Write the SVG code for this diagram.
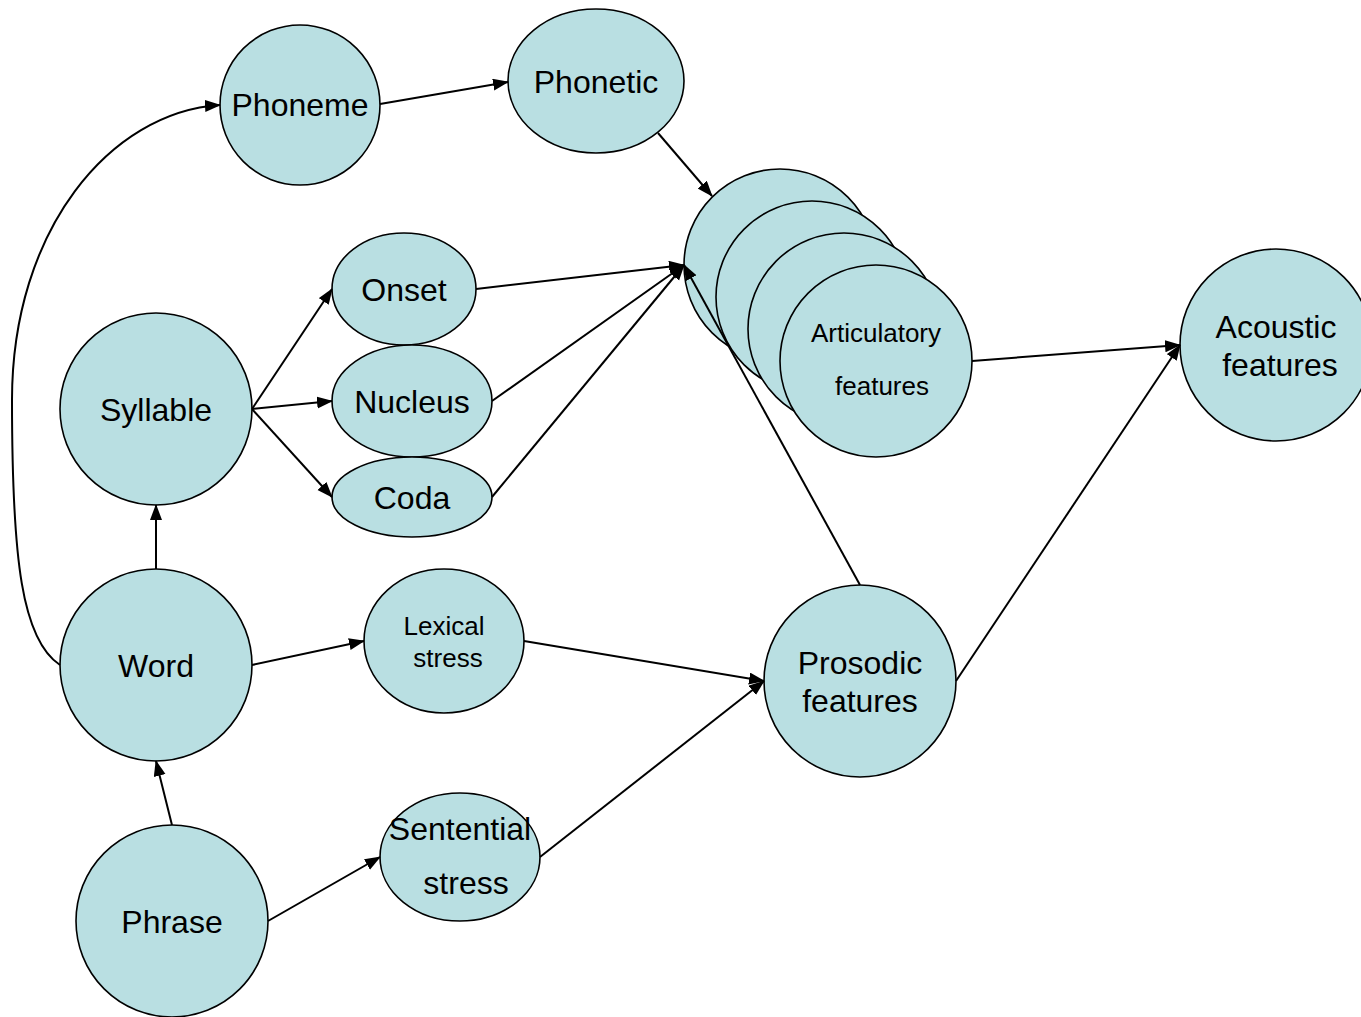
<svg xmlns="http://www.w3.org/2000/svg" width="1361" height="1017" viewBox="0 0 1361 1017">
<defs>
<style>
.n{fill:#b9dfe2;stroke:#000;stroke-width:1.6}
.t{font-family:"Liberation Sans",Arial,sans-serif;font-size:32px;fill:#000;text-anchor:middle}
.s{font-size:26px}
.c line,.c path{stroke:#000;stroke-width:2;fill:none;marker-end:url(#ah)}
</style>
<marker id="ah" markerUnits="userSpaceOnUse" markerWidth="18" markerHeight="14" refX="15" refY="6" orient="auto">
<path d="M0,0 L16,6 L0,12 z" fill="#000"/>
</marker>
</defs>
<rect width="1361" height="1017" fill="#fff"/>
<g id="phoneme"><ellipse class="n" cx="300" cy="105" rx="80" ry="80"/><text class="t" x="300" y="116">Phoneme</text></g>
<g id="phonetic"><ellipse class="n" cx="596" cy="81" rx="88" ry="72"/><text class="t" x="596" y="93">Phonetic</text></g>
<g id="articulatory">
<circle class="n" cx="780" cy="265" r="96"/>
<circle class="n" cx="812" cy="297" r="96"/>
<circle class="n" cx="844" cy="329" r="96"/>
<circle class="n" cx="876" cy="361" r="96"/>
<text class="t s" x="876" y="342">Articulatory</text>
<text class="t s" x="882" y="395">features</text>
</g>
<g id="acoustic"><circle class="n" cx="1276" cy="345" r="96"/><text class="t" x="1276" y="338">Acoustic</text><text class="t" x="1280" y="376">features</text></g>
<g id="onset"><ellipse class="n" cx="404" cy="289" rx="72" ry="56"/><text class="t" x="404" y="301">Onset</text></g>
<g id="nucleus"><ellipse class="n" cx="412" cy="401" rx="80" ry="56"/><text class="t" x="412" y="413">Nucleus</text></g>
<g id="coda"><ellipse class="n" cx="412" cy="497" rx="80" ry="40"/><text class="t" x="412" y="509">Coda</text></g>
<g id="syllable"><circle class="n" cx="156" cy="409" r="96"/><text class="t" x="156" y="421">Syllable</text></g>
<g id="word"><circle class="n" cx="156" cy="665" r="96"/><text class="t" x="156" y="677">Word</text></g>
<g id="phrase"><circle class="n" cx="172" cy="921" r="96"/><text class="t" x="172" y="933">Phrase</text></g>
<g id="lexical"><ellipse class="n" cx="444" cy="641" rx="80" ry="72"/><text class="t s" x="444" y="635">Lexical</text><text class="t s" x="448" y="667">stress</text></g>
<g id="sentential"><ellipse class="n" cx="460" cy="857" rx="80" ry="64"/><text class="t" x="460" y="840">Sentential</text><text class="t" x="466" y="894">stress</text></g>
<g id="prosodic"><circle class="n" cx="860" cy="681" r="96"/><text class="t" x="860" y="674">Prosodic</text><text class="t" x="860" y="712">features</text></g>
<g id="connectors" class="c">
<line x1="380" y1="104" x2="508" y2="82"/>
<line x1="658" y1="133" x2="712" y2="196"/>
<line x1="476" y1="289" x2="684" y2="265"/>
<line x1="492" y1="401" x2="684" y2="265"/>
<line x1="492" y1="497" x2="684" y2="265"/>
<line x1="860" y1="585" x2="684" y2="265"/>
<line x1="972" y1="361" x2="1180" y2="345"/>
<line x1="956" y1="681" x2="1180" y2="345"/>
<line x1="252" y1="409" x2="332" y2="289"/>
<line x1="252" y1="409" x2="332" y2="401"/>
<line x1="252" y1="409" x2="332" y2="497"/>
<line x1="156" y1="569" x2="156" y2="505"/>
<path d="M60,665 C22,640 12,560 12,400 C12,230 110,112 220,105"/>
<line x1="252" y1="665" x2="364" y2="641"/>
<line x1="524" y1="641" x2="764" y2="681"/>
<line x1="172" y1="825" x2="156" y2="761"/>
<line x1="268" y1="921" x2="380" y2="857"/>
<line x1="540" y1="857" x2="764" y2="681"/>
</g>
</svg>
